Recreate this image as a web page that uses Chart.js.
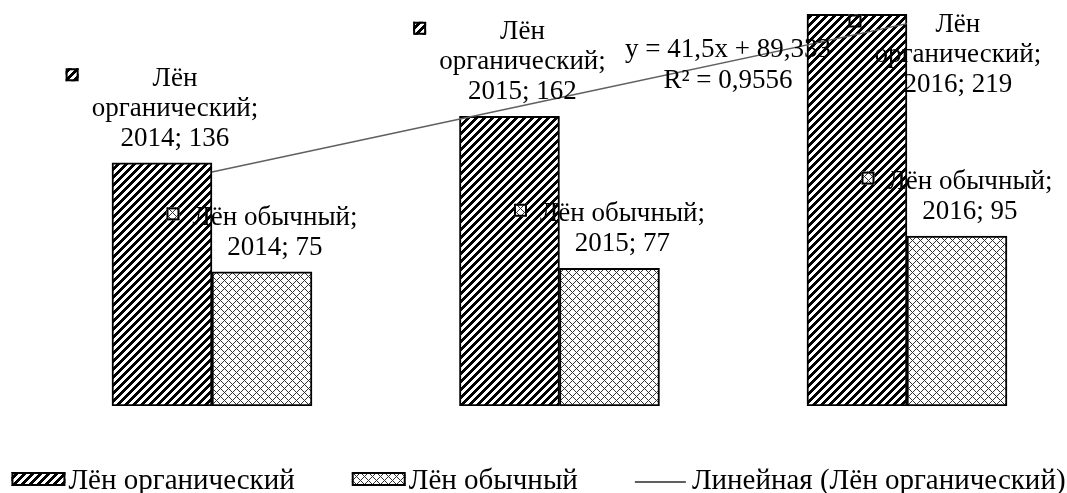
<!DOCTYPE html>
<html lang="ru">
<head>
<meta charset="utf-8">
<title>Лён органический и обычный</title>
<script src="https://cdn.jsdelivr.net/npm/chart.js@4.4.1/dist/chart.umd.min.js"></script>
<style>
    html, body { margin: 0; padding: 0; background: #fff; }
    #wrap { position: relative; width: 1067px; height: 493px; }
</style>
</head>
<body>
<div id="wrap"><canvas id="chart-len"></canvas></div>
<script>
const years = ["2014", "2015", "2016"];
const lenOrganic = [136, 162, 219];
const lenOrdinary = [75, 77, 95];
// линейный тренд органического льна (y = 41,5x + 89,333)
const trendOrganic = [130.8, 172.3, 213.8];
const seriesNames = ["Лён органический", "Лён обычный", "Линейная (Лён органический)"];
const trendText = ["y = 41,5x + 89,333", "R² = 0,9556"];

const FAMILY = "'Liberation Serif', 'Times New Roman', serif";
const FONT = "27px " + FAMILY;
const LEGEND_FONT = "29px " + FAMILY;
const LINE_H = 30;
const KEY = 13;

const makePattern = (pick) => {
    const c = document.createElement("canvas");
    c.width = 8;
    c.height = 8;
    const g = c.getContext("2d");
    g.fillStyle = "#fff";
    g.fillRect(0, 0, 8, 8);
    for (let y = 0; y < 8; y++) {
        for (let x = 0; x < 8; x++) {
            const col = pick(x, y);
            if (col) {
                g.fillStyle = col;
                g.fillRect(x, y, 1, 1);
            }
        }
    }
    return g.createPattern(c, "repeat");
};

const hatchUp = makePattern((x, y) => ((x + y) % 8 < 4 ? "#000" : null));
const trellis = makePattern((x, y) =>
    (x + y) % 8 === 0 || (x - y + 8) % 8 === 0 ? "#333" : null
);

const drawKey = (ctx, x, y, w, h, fill) => {
    ctx.fillStyle = fill;
    ctx.fillRect(x, y, w, h);
    ctx.lineWidth = 2;
    ctx.strokeStyle = "#000";
    ctx.strokeRect(x + 1, y + 1, w - 2, h - 2);
};

// подписи данных в стиле Excel: значок серии + "серия; год; значение"
const labelPlugin = {
    id: "excelLabels",
    afterDatasetsDraw(chart) {
        const ctx = chart.ctx;
        ctx.save();
        ctx.font = FONT;
        ctx.textBaseline = "alphabetic";
        [0, 1].forEach((di) => {
            const ds = chart.data.datasets[di];
            chart.getDatasetMeta(di).data.forEach((bar, i) => {
                const tail = years[i] + "; " + ds.data[i].y;
                const lines = di === 0 ? ["Лён", "органический;", tail] : ["Лён обычный;", tail];
                const textW = Math.max(...lines.map((l) => ctx.measureText(l).width));
                const blockW = KEY + 13 + textW;
                let left = bar.x - blockW / 2;
                let firstBase = bar.y - 17 - (lines.length - 1) * LINE_H;
                if (firstBase - 20 < chart.chartArea.top) {
                    // не помещается над столбцом: значок над столбцом, текст справа
                    left = bar.x - KEY / 2 - 2;
                    firstBase = 32;
                }
                drawKey(ctx, left, firstBase - 11 - KEY / 2, KEY, KEY, ds.backgroundColor);
                ctx.fillStyle = "#000";
                ctx.textAlign = "center";
                const cx = left + KEY + 13 + textW / 2;
                lines.forEach((l, k) => ctx.fillText(l, cx, firstBase + k * LINE_H));
            });
        });

        // уравнение тренда
        const tx = chart.scales.x.getPixelForValue(2015.485);
        const ty = chart.scales.y.getPixelForValue(195);
        ctx.textAlign = "center";
        ctx.fillStyle = "#000";
        ctx.fillText(trendText[0], tx, ty);
        ctx.fillText(trendText[1], tx, ty + 31);
        ctx.restore();
    },
};

const legendPlugin = {
    id: "bottomLegend",
    afterDraw(chart) {
        const ctx = chart.ctx;
        ctx.save();
        ctx.font = LEGEND_FONT;
        ctx.textAlign = "left";
        ctx.textBaseline = "alphabetic";
        const sw = 54;
        const gap = 57;
        const items = chart.data.datasets.map((ds) => ({ ds, w: ctx.measureText(ds.label).width }));
        const total = items.reduce((s, it) => s + sw + 3 + it.w, 0) + gap * (items.length - 1);
        let x = (chart.width - total) / 2 + 5;
        const cy = chart.chartArea.bottom + 73;
        items.forEach(({ ds, w }) => {
            if (ds.type === "line") {
                ctx.strokeStyle = ds.borderColor;
                ctx.lineWidth = 2;
                ctx.beginPath();
                ctx.moveTo(x, cy + 3);
                ctx.lineTo(x + sw - 3, cy + 3);
                ctx.stroke();
            } else {
                drawKey(ctx, x, cy - 7, sw, 14, ds.backgroundColor);
            }
            ctx.fillStyle = "#000";
            ctx.fillText(ds.label, x + sw + 3, cy + 10);
            x += sw + 3 + w + gap;
        });
        ctx.restore();
    },
};

const toPoints = (values) => values.map((v, i) => ({ x: Number(years[i]), y: v }));

const chartLen = new Chart(document.getElementById("chart-len"), {
    type: "bar",
    data: {
        datasets: [
            {
                label: seriesNames[0],
                data: toPoints(lenOrganic),
                backgroundColor: hatchUp,
                borderColor: "#000",
                borderWidth: 2,
                borderSkipped: false,
                barThickness: 100,
                order: 1,
            },
            {
                label: seriesNames[1],
                data: toPoints(lenOrdinary),
                backgroundColor: trellis,
                borderColor: "#000",
                borderWidth: 2,
                borderSkipped: false,
                barThickness: 100,
                order: 1,
            },
            {
                type: "line",
                label: seriesNames[2],
                data: toPoints(trendOrganic),
                borderColor: "#606060",
                borderWidth: 1.5,
                pointRadius: 0,
                fill: false,
                tension: 0,
                order: 0,
            },
        ],
    },
    options: {
        responsive: true,
        maintainAspectRatio: false,
        animation: false,
        layout: { padding: { top: 0, right: 0, bottom: 87, left: 0 } },
        plugins: {
            legend: { display: false },
            tooltip: { enabled: false },
        },
        scales: {
            x: { type: "linear", min: 2013.39, max: 2016.4605, offset: false, display: false },
            y: { min: 0, max: 227, display: false },
        },
    },
    plugins: [labelPlugin, legendPlugin],
});
</script>
</body>
</html>
